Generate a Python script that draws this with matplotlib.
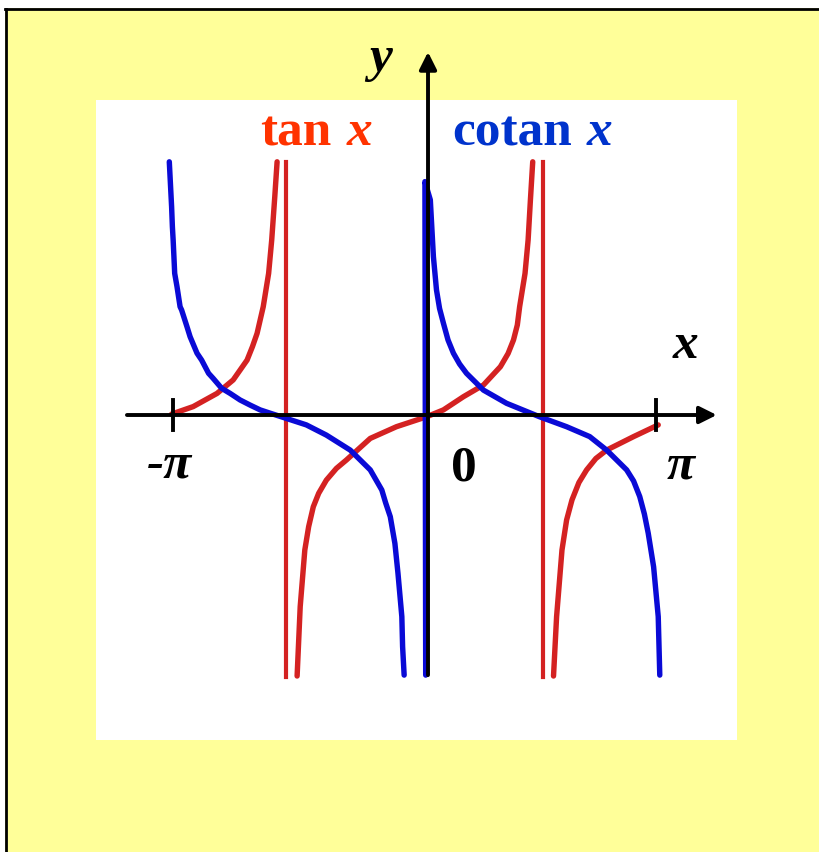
import matplotlib
matplotlib.use("Agg")
import matplotlib.pyplot as plt
from matplotlib.patches import Rectangle
from matplotlib.lines import Line2D

# Kurvenpunkte (x in rad, y in Funktionswerten)
tan_left_x = [-3.33, -3.05, -2.74, -2.53, -2.44, -2.35, -2.28, -2.22, -2.14, -2.07, -2.03, -1.99, -1.96]
tan_left_y = [0.03, 0.28, 0.72, 1.17, 1.50, 1.83, 2.28, 2.72, 3.61, 4.72, 5.83, 7.28, 8.44]

tan_mid_x = [-1.70, -1.66, -1.60, -1.55, -1.49, -1.42, -1.32, -1.19, -1.06, -0.75, -0.41, -0.02,
             0.20, 0.46, 0.72, 0.94, 1.04, 1.11, 1.16, 1.19, 1.26, 1.30, 1.33, 1.36]
tan_mid_y = [-8.70, -6.39, -4.50, -3.72, -3.06, -2.61, -2.17, -1.78, -1.50, -0.78, -0.39, -0.06,
             0.17, 0.61, 1.00, 1.61, 2.05, 2.50, 3.00, 3.61, 4.72, 5.83, 7.17, 8.44]

tan_right_x = [1.63, 1.67, 1.74, 1.80, 1.87, 1.96, 2.06, 2.18, 2.32, 2.67, 2.99]
tan_right_y = [-8.70, -6.72, -4.50, -3.50, -2.83, -2.25, -1.83, -1.45, -1.17, -0.72, -0.33]

# senkrechte Sprünge von tan bei -pi/2 und pi/2
tan_jump_x = [-1.84, 1.49]
tan_jump_y = [8.44, -8.73]

cot_left_x = [-3.36, -3.33, -3.32, -3.31, -3.30, -3.29, -3.26, -3.22, -3.20, -3.13, -3.09, -3.00,
              -2.94, -2.85, -2.79, -2.68, -2.57, -2.44, -2.31, -2.18, -2.05, -1.88, -1.58, -1.32,
              -1.01, -0.88, -0.75, -0.60, -0.55, -0.49, -0.43, -0.39, -0.34, -0.33, -0.31]
cot_left_y = [8.44, 6.94, 6.28, 5.83, 5.28, 4.72, 4.28, 3.61, 3.50, 2.94, 2.61, 2.06,
              1.83, 1.39, 1.22, 0.89, 0.72, 0.50, 0.33, 0.17, 0.06, -0.08, -0.33, -0.67,
              -1.17, -1.50, -1.83, -2.50, -2.93, -3.39, -4.28, -5.28, -6.72, -7.72, -8.67]

cot_right_x = [-0.03, -0.04, 0.03, 0.07, 0.11, 0.15, 0.20, 0.26, 0.33, 0.41, 0.50, 0.72, 1.02,
               1.45, 1.80, 2.10, 2.32, 2.58, 2.67, 2.75, 2.81, 2.86, 2.93, 2.99, 3.01]
cot_right_y = [-8.67, 7.78, 7.17, 5.28, 4.17, 3.55, 3.06, 2.50, 2.06, 1.70, 1.39, 0.83, 0.39,
               -0.06, -0.39, -0.72, -1.17, -1.83, -2.20, -2.72, -3.30, -3.94, -5.06, -6.72, -8.67]

tick_pos = [-3.31, 2.96]
tick_labels = ["-π", "π"]

RED = "#d42222"
BLUE = "#0a0ad6"
SERIF = ["Liberation Serif", "DejaVu Serif"]

fig = plt.figure(figsize=(8.19, 8.52), dpi=100)
fig.patch.set_facecolor("white")

# gelber Hintergrund mit Rand links und oben
fig.patches.append(Rectangle((5 / 819, 0), 1, 1 - 8 / 852, transform=fig.transFigure,
                             facecolor="#ffff99", edgecolor="none", zorder=-10))
fig.lines.append(Line2D([5.5 / 819, 5.5 / 819], [0, 1 - 8.5 / 852], transform=fig.transFigure,
                        color="black", lw=2, zorder=-5))
fig.lines.append(Line2D([5 / 819, 1], [1 - 8.5 / 852] * 2, transform=fig.transFigure,
                        color="black", lw=2, zorder=-5))

ax = fig.add_axes([96 / 819, 112 / 852, 641 / 819, 640 / 852])
ax.set_facecolor("white")
for s in ax.spines.values():
    s.set_visible(False)
ax.set_xticks([])
ax.set_yticks([])
ax.set_xlim(-4.312, 4.013)
ax.set_ylim(-10.833, 10.5)

# Kurven
curve = dict(lw=3.9, solid_capstyle="round", solid_joinstyle="round")
ax.plot(tan_left_x, tan_left_y, color=RED, zorder=2, **curve)
ax.plot(tan_mid_x, tan_mid_y, color=RED, zorder=2, **curve)
ax.plot(tan_right_x, tan_right_y, color=RED, zorder=2, **curve)
for jx in tan_jump_x:
    ax.plot([jx, jx], tan_jump_y, color=RED, lw=3.0, zorder=2)
ax.plot(cot_left_x, cot_left_y, color=BLUE, zorder=3, **curve)
ax.plot(cot_right_x, cot_right_y, color=BLUE, zorder=3, **curve)

# Achsen mit Pfeilen
arrow = dict(arrowstyle="-|>", color="black", lw=2.8, mutation_scale=26, shrinkA=0, shrinkB=0)
ax.annotate("", xy=(3.75, 0), xytext=(-3.91, 0), arrowprops=arrow, annotation_clip=False, zorder=4)
ax.annotate("", xy=(0, 12.1), xytext=(0, -8.67), arrowprops=arrow, annotation_clip=False, zorder=4)
for tx in tick_pos:
    ax.plot([tx, tx], [-0.5, 0.5], color="black", lw=2.8, zorder=4)

# Beschriftung
fs = 37
ax.text(-2.18, 9.0, "tan", color="#ff3300", fontsize=fs, fontweight="bold", family=SERIF)
ax.text(-1.06, 9.0, "x", color="#ff3300", fontsize=fs, fontweight="bold", fontstyle="italic", family=SERIF)
ax.text(0.32, 9.0, "cotan", color="#0033cc", fontsize=fs, fontweight="bold", family=SERIF)
ax.text(2.06, 9.0, "x", color="#0033cc", fontsize=fs, fontweight="bold", fontstyle="italic", family=SERIF)
ax.text(-0.77, 11.47, "y", fontsize=fs, fontweight="bold", fontstyle="italic", family=SERIF, clip_on=False)
ax.text(3.18, 1.9, "x", fontsize=fs, fontweight="bold", fontstyle="italic", family=SERIF)
ax.text(-3.65, -2.07, tick_labels[0], fontsize=fs, fontweight="bold", fontstyle="italic", family=SERIF)
ax.text(0.30, -2.17, "0", fontsize=fs, fontweight="bold", family=SERIF)
ax.text(3.10, -2.10, tick_labels[1], fontsize=fs, fontweight="bold", fontstyle="italic", family=SERIF)

fig.savefig("out.png", dpi=100, facecolor=fig.get_facecolor())
